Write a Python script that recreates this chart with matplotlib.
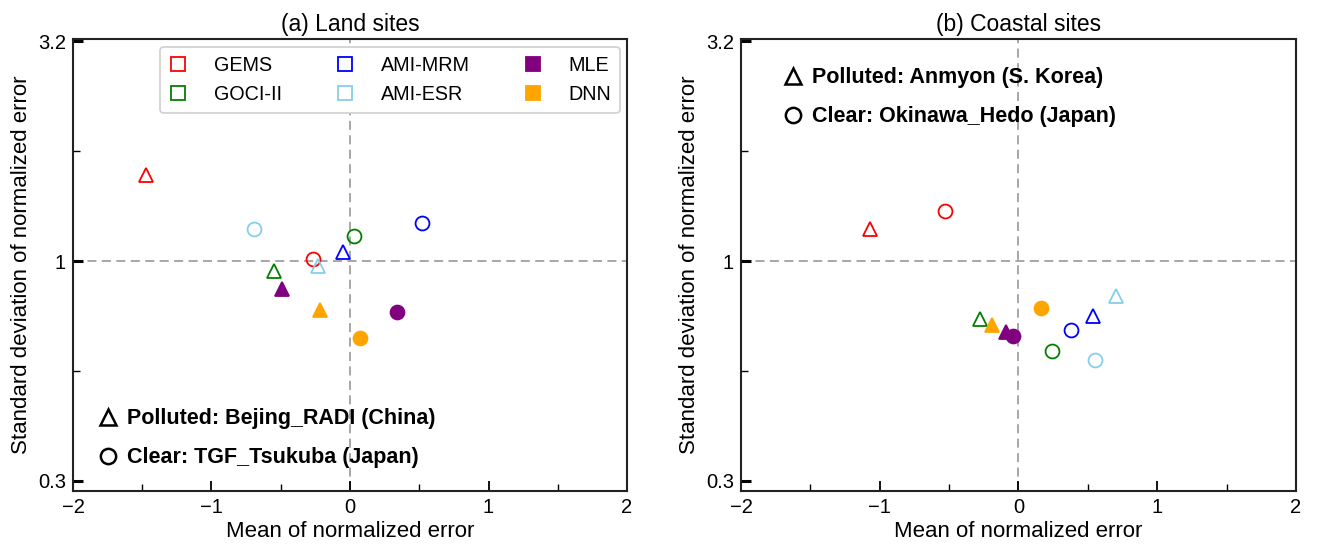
import matplotlib
matplotlib.use("Agg")

import matplotlib.pyplot as plt
from matplotlib.lines import Line2D
import numpy as np

plt.rcParams["font.family"] = ["Liberation Sans", "DejaVu Sans"]

# --- products and colours ---
products = ["GEMS", "GOCI-II", "AMI-MRM", "AMI-ESR", "MLE", "DNN"]
colors = ["#ff0000", "#008000", "#0000ff", "#87ceeb", "#800080", "#ffa500"]
filled = [False, False, False, False, True, True]

# --- (a) land sites: mean / std of normalized error ---
land_poll_mean = [-1.47, -0.55, -0.05, -0.23, -0.49, -0.22]
land_poll_std = [1.57, 0.95, 1.05, 0.976, 0.863, 0.774]
land_clear_mean = [-0.27, 0.03, 0.52, -0.69, 0.34, 0.07]
land_clear_std = [1.01, 1.14, 1.22, 1.18, 0.767, 0.668]

# --- (b) coastal sites ---
coast_poll_mean = [-1.07, -0.28, 0.54, 0.70, -0.09, -0.19]
coast_poll_std = [1.18, 0.74, 0.75, 0.834, 0.69, 0.716]
coast_clear_mean = [-0.53, 0.24, 0.38, 0.55, -0.04, 0.16]
coast_clear_std = [1.30, 0.626, 0.696, 0.596, 0.674, 0.782]

y_ticks = [10 ** -0.5, 1.0, 10 ** 0.5]
y_ticklabels = ["0.3", "1", "3.2"]

fig = plt.figure(figsize=(13.17, 5.47), dpi=100)
ax1 = fig.add_axes([0.0554, 0.1024, 0.4207, 0.8263])
ax2 = fig.add_axes([0.5626, 0.1024, 0.4214, 0.8263])


def draw_panel(ax, poll_m, poll_s, clear_m, clear_s, title):
    ax.axhline(1.0, color="#a0a0a0", ls=(0, (5, 3)), lw=1.3, zorder=1)
    ax.axvline(0.0, color="#a0a0a0", ls=(0, (5, 3)), lw=1.3, zorder=1)
    for i in range(len(products)):
        fc = colors[i] if filled[i] else "none"
        ax.plot(poll_m[i], poll_s[i], marker="^", ms=10, mfc=fc,
                mec=colors[i], mew=1.3, ls="none", zorder=3)
        ax.plot(clear_m[i], clear_s[i], marker="o", ms=10, mfc=fc,
                mec=colors[i], mew=1.3, ls="none", zorder=3)
    ax.set_yscale("log")
    ax.set_xlim(-2, 2)
    ax.set_ylim(0.3, 3.2)
    ax.set_xticks([-2, -1, 0, 1, 2])
    ax.set_xticklabels(["\u22122", "\u22121", "0", "1", "2"])
    ax.set_xticks([-1.5, -0.5, 0.5, 1.5], minor=True)
    ax.set_yticks(y_ticks)
    ax.set_yticklabels(y_ticklabels)
    ax.set_yticks([10 ** -0.25, 10 ** 0.25], minor=True)
    ax.yaxis.set_minor_formatter(matplotlib.ticker.NullFormatter())
    ax.tick_params(which="major", direction="in", length=7, width=1.3,
                   labelsize=14.5, pad=5)
    ax.tick_params(axis="y", which="major", width=2.2)
    ax.tick_params(which="minor", direction="in", length=5, width=1.0)
    for sp in ax.spines.values():
        sp.set_linewidth(1.5)
        sp.set_color("#222222")
    ax.set_xlabel("Mean of normalized error", fontsize=16, labelpad=3)
    ax.set_ylabel("Standard deviation of normalized error", fontsize=16,
                  labelpad=4)
    ax.set_title(title, fontsize=16.5, pad=6)


draw_panel(ax1, land_poll_mean, land_poll_std, land_clear_mean,
           land_clear_std, "(a) Land sites")
draw_panel(ax2, coast_poll_mean, coast_poll_std, coast_clear_mean,
           coast_clear_std, "(b) Coastal sites")

# product legend
prod_handles = [Line2D([], [], marker="s", ls="none", ms=9.5, mew=1.3,
                       mec=c, mfc=(c if f else "none"))
                for c, f in zip(colors, filled)]
leg = ax1.legend(prod_handles, products, ncol=3, loc="upper right",
                 bbox_to_anchor=(0.987, 0.982), borderaxespad=0,
                 fontsize=14.2, handletextpad=1.3, columnspacing=2.7,
                 handlelength=1.0, labelspacing=0.5, borderpad=0.45,
                 fancybox=True, framealpha=1, edgecolor="#d0d0d0")
leg.get_frame().set_linewidth(1.2)
ax1.add_artist(leg)


def site_legend(ax, labels, loc, anchor):
    handles = [Line2D([], [], marker="^", ls="none", ms=11, mew=1.8,
                      mec="black", mfc="none"),
               Line2D([], [], marker="o", ls="none", ms=11, mew=1.8,
                      mec="black", mfc="none")]
    lg = ax.legend(handles, labels, loc=loc, bbox_to_anchor=anchor,
                   borderaxespad=0, frameon=False, handlelength=0.9,
                   handletextpad=0.45, labelspacing=0.85,
                   prop={"weight": "bold", "size": 15.5})
    return lg


site_legend(ax1, ["Polluted: Bejing_RADI (China)",
                  "Clear: TGF_Tsukuba (Japan)"],
            "lower left", (0.03, 0.031))
site_legend(ax2, ["Polluted: Anmyon (S. Korea)",
                  "Clear: Okinawa_Hedo (Japan)"],
            "upper left", (0.06, 0.957))

fig.savefig("out.png", dpi=100)
